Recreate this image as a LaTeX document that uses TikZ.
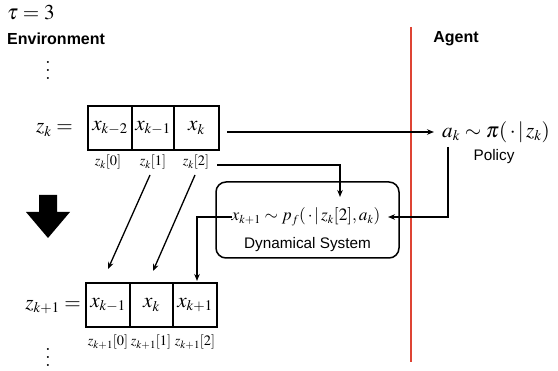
\documentclass[tikz,border=0pt]{standalone}
\usepackage{mathptmx}
\usepackage{graphicx}
\usepackage[no-math]{fontspec}
\setsansfont{Liberation Sans}
\usetikzlibrary{arrows.meta,calc}
\definecolor{redline}{RGB}{222,68,52}
\newcommand{\mbig}[1]{\scalebox{1.02}{$#1$}}
\newcommand{\mydots}{\vbox{\baselineskip=8pt\lineskiplimit=-20pt\hbox{.}\hbox{.}\hbox{.}}}
\tikzset{
  mathbig/.style={font=\fontsize{20.74}{22}\selectfont, inner sep=0pt},
  mathform/.style={font=\fontsize{17.28}{20}\selectfont, inner sep=0pt},
  mathsmall/.style={font=\fontsize{14.4}{15}\selectfont, inner sep=0pt},
  dotsstyle/.style={font=\fontsize{24.88}{30}\selectfont, inner sep=0pt},
  sanslbl/.style={font=\sffamily\fontsize{15.3}{17}\selectfont, inner sep=0pt},
  sansbold/.style={font=\sffamily\bfseries\fontsize{16}{18}\selectfont, inner sep=0pt},
  cell/.style={draw, line width=2pt, minimum height=44pt, inner sep=0pt, font=\fontsize{20.74}{22}\selectfont},
  conn/.style={line width=1.3pt, -{Stealth[length=7pt,width=5.5pt]}},
}
\begin{document}
\begin{tikzpicture}[x=1pt,y=-1pt]
\useasboundingbox (0,0) rectangle (558,371);
% headings
\node[mathbig, anchor=west] (tau) at (7,13) {\mbig{\tau \mathrel{=} 3}};
\node[sansbold, anchor=west] (env) at (7,39) {Environment};
\node[sansbold] (agent) at (456,39) {Agent};
\node[dotsstyle] (dtop) at (48,70) {\mydots};
% red separator
\coordinate (rtop) at (411,27);
\coordinate (rbot) at (411,362);
\draw[redline, line width=2.2pt] (rtop) -- (rbot);
% top row
\node[mathbig, anchor=east] (zk) at (73,130) {\mbig{z_k =}};
\node[cell, minimum width=44pt] (b1) at (110,128) {\mbig{x_{k-2}}};
\node[cell, minimum width=42pt] (b2) at (153,128) {\mbig{x_{k-1}}};
\node[cell, minimum width=45pt] (b3) at (196.5,128) {\mbig{x_{k}}};
\node[mathsmall] (l0) at (108,162) {$z_k[0]$};
\node[mathsmall] (l1) at (153,162) {$z_k[1]$};
\node[mathsmall] (l2) at (196,162) {$z_k[2]$};
% agent
\node[mathbig, anchor=west] (pol) at (442,132) {\mbig{a_k \sim \pi(\,\cdot\,|\,z_k)}};
\node[sanslbl] (polt) at (494,157) {Policy};
% dynamical system
\node[draw, line width=1.5pt, rounded corners=10pt, minimum width=183pt, minimum height=76pt] (dyn) at (307.5,220) {};
\node[mathform] (fx) at (306,217) {$x_{k+1} \sim p_f(\,\cdot\,|\,z_k[2], a_k)$};
\node[sanslbl] (dynt) at (307.5,245) {Dynamical System};
% bottom row
\node[mathbig, anchor=east] (zk1) at (81,307) {\mbig{z_{k+1} =}};
\node[cell, minimum width=44pt] (c1) at (108,305) {\mbig{x_{k-1}}};
\node[cell, minimum width=43pt] (c2) at (151.5,305) {\mbig{x_{k}}};
\node[cell, minimum width=44pt] (c3) at (195,305) {\mbig{x_{k+1}}};
\node[mathsmall] (m0) at (108,342) {$z_{k+1}[0]$};
\node[mathsmall] (m1) at (151,342) {$z_{k+1}[1]$};
\node[mathsmall] (m2) at (195,342) {$z_{k+1}[2]$};
\node[dotsstyle] (dbot) at (48,357) {\mydots};
% big down arrow
\fill (39,195) -- (57,195) -- (57,212) -- (70,212) -- (48,238) -- (26,212) -- (39,212) -- cycle;
% connectors
\coordinate (a1s) at (227,132);
\coordinate (a1e) at (434,132);
\draw[conn] (a1s) -- (a1e);
\coordinate (a2s) at (217,165);
\coordinate (a2e) at (340,197);
\draw[conn] (a2s) -| (a2e);
\coordinate (a3s) at (448,147);
\coordinate (a3e) at (388,217);
\draw[conn] (a3s) |- (a3e);
\coordinate (a4e) at (197,281);
\draw[conn] (fx.west) -| (a4e);
\coordinate (a5s) at (150,175);
\coordinate (a5e) at (108,269);
\draw[conn] (a5s) -- (a5e);
\coordinate (a6s) at (195,175);
\coordinate (a6e) at (153,271);
\draw[conn] (a6s) -- (a6e);
\end{tikzpicture}
\end{document}
